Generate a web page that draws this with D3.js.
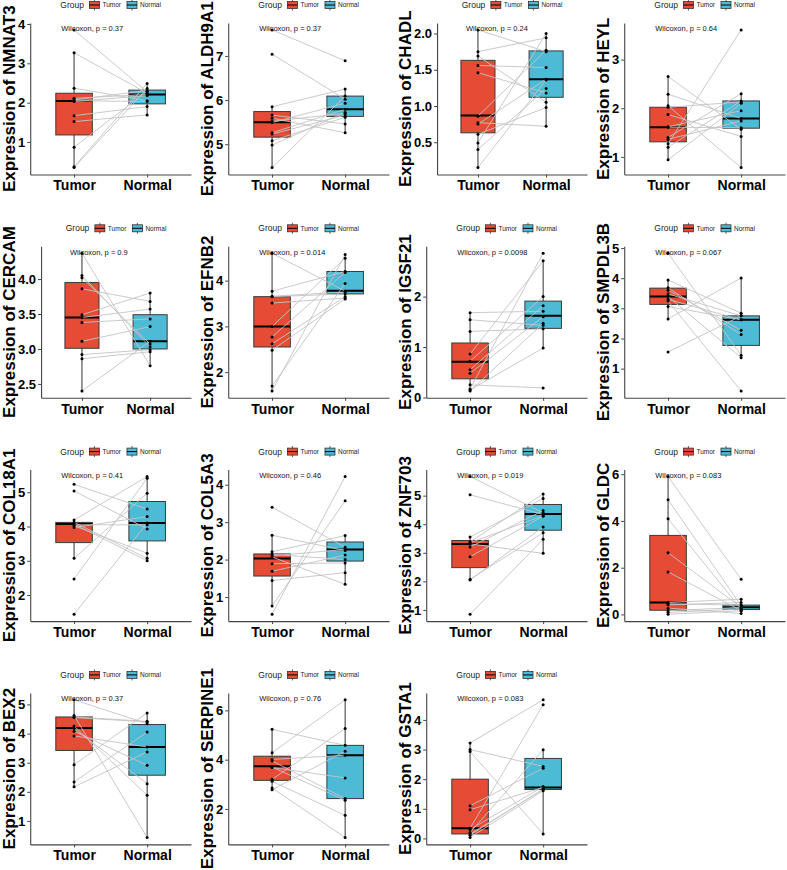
<!DOCTYPE html>
<html>
<head>
<meta charset="utf-8">
<script src="https://cdn.jsdelivr.net/npm/d3@7"></script>
<style>
  body { margin: 0; background: #fff; }
  text { font-family: "Liberation Sans", Arial, sans-serif; }
</style>
</head>
<body>
<svg id="chart" width="787" height="870"></svg>
<script>
const groups = ["Tumor", "Normal"];
const groupColors = ["#E64B35", "#4DBBD5"];

const genes = ["NMNAT3", "ALDH9A1", "CHADL", "HEYL", "CERCAM", "EFNB2", "IGSF21", "SMPDL3B",
               "COL18A1", "COL5A3", "ZNF703", "GLDC", "BEX2", "SERPINE1", "GSTA1"];
const pValues = ["0.37", "0.37", "0.24", "0.64", "0.9", "0.014", "0.0098", "0.067",
                 "0.41", "0.46", "0.019", "0.083", "0.37", "0.76", "0.083"];

const yTicks = [
  [1, 2, 3, 4], [5, 6, 7], [0.5, 1.0, 1.5, 2.0], [1, 2, 3],
  [2.5, 3.0, 3.5, 4.0], [2, 3, 4], [0, 1, 2], [1, 2, 3, 4, 5],
  [2, 3, 4, 5], [1, 2, 3, 4], [1, 2, 3, 4, 5], [0, 2, 4, 6],
  [1, 2, 3, 4, 5], [2, 4, 6], [0, 1, 2, 3, 4]
];

// paired samples: tumorValues[i][j] belongs with normalValues[i][j]
const tumorValues = [
  [3.85, 3.27, 2.37, 2.11, 2.07, 2.03, 1.67, 1.52, 0.87, 0.37, 0.35, 2.05],
  [7.59, 7.04, 5.85, 5.66, 5.59, 5.49, 5.26, 5.23, 5.08, 4.98, 4.47, 5.52],
  [2.05, 1.75, 1.69, 1.56, 1.46, 0.86, 0.77, 0.75, 0.61, 0.49, 0.40, 0.15],
  [2.65, 2.29, 2.05, 2.02, 1.87, 1.61, 1.40, 1.36, 1.27, 1.20, 0.94, 1.62],
  [4.37, 4.05, 4.02, 3.86, 3.49, 3.45, 3.38, 3.11, 2.92, 2.86, 2.40],
  [4.60, 3.77, 3.65, 3.51, 3.00, 2.77, 2.62, 2.48, 1.70, 1.59, 3.66],
  [1.68, 1.54, 1.31, 0.86, 0.72, 0.55, 0.48, 0.25, 0.17, 0.13, 0.15],
  [4.83, 3.94, 3.68, 3.60, 3.48, 3.39, 3.30, 3.24, 3.06, 2.65, 1.55],
  [5.23, 5.04, 4.19, 4.12, 4.07, 4.05, 4.02, 3.97, 3.07, 2.47, 1.44],
  [3.40, 2.65, 2.21, 2.14, 2.07, 1.89, 1.69, 1.44, 0.76, 0.54, 2.10],
  [5.67, 5.03, 3.55, 3.38, 3.31, 3.20, 2.86, 2.05, 2.07, 0.85, 3.35],
  [5.90, 4.91, 4.09, 2.64, 1.82, 0.51, 0.41, 0.27, 0.16, 0.09, 0.01, 0.45],
  [5.16, 4.62, 4.57, 4.26, 4.17, 4.08, 3.92, 2.93, 2.34, 2.17, 4.55],
  [5.23, 4.28, 4.01, 3.95, 3.70, 3.68, 3.20, 3.12, 2.85, 2.78],
  [3.22, 3.00, 2.93, 1.10, 0.97, 0.34, 0.20, 0.11, 0.03, 0.15, 0.30]
];
const normalValues = [
  [2.27, 2.24, 2.05, 2.21, 2.31, 2.18, 1.90, 1.69, 2.29, 2.49, 2.36, 2.03],
  [6.89, 6.02, 6.25, 5.46, 5.26, 5.93, 5.79, 5.66, 5.61, 5.72, 6.09, 5.70],
  [1.75, 1.94, 1.05, 1.53, 1.18, 1.77, 0.72, 1.37, 0.98, 2.00, 1.24, 1.36],
  [1.57, 1.79, 0.78, 2.13, 1.42, 1.60, 2.30, 1.74, 3.61, 2.15, 2.10, 1.95],
  [2.76, 3.03, 3.07, 3.68, 3.80, 3.57, 3.43, 3.32, 2.99, 2.96, 3.11],
  [3.77, 4.20, 3.71, 3.62, 4.49, 4.18, 3.65, 3.60, 3.94, 4.57, 3.75],
  [1.71, 1.43, 1.36, 2.71, 2.00, 1.82, 1.60, 0.19, 2.86, 1.47, 0.98],
  [1.44, 2.84, 2.13, 2.27, 2.75, 1.36, 2.62, 0.26, 2.62, 4.01, 2.75],
  [4.51, 3.93, 5.46, 3.07, 3.00, 4.05, 3.22, 4.29, 4.97, 5.41, 4.10],
  [2.33, 2.24, 2.64, 2.00, 1.34, 1.91, 2.12, 1.65, 3.57, 4.22, 2.27],
  [4.40, 4.34, 4.90, 5.06, 2.98, 4.48, 4.28, 3.90, 3.70, 3.47, 4.30],
  [1.50, 0.37, 0.23, 0.30, 0.16, 0.65, 0.51, 0.04, 0.30, 0.23, 0.16, 0.40],
  [4.34, 0.43, 4.42, 1.88, 2.28, 2.91, 3.54, 4.71, 4.05, 3.37, 4.40],
  [4.58, 6.43, 4.18, 2.42, 2.35, 3.26, 5.26, 1.74, 0.84, 4.34],
  [4.68, 2.43, 0.15, 2.37, 1.72, 4.51, 2.99, 1.67, 1.61, 1.65, 1.75]
];

// box hinges: [lower quartile, median, upper quartile]
const tumorBox = [
  [1.18, 2.04, 2.24], [5.16, 5.50, 5.74], [0.63, 0.87, 1.63], [1.31, 1.61, 2.02],
  [3.01, 3.45, 3.95], [2.55, 3.00, 3.65], [0.37, 0.71, 1.08], [3.13, 3.39, 3.67],
  [3.53, 4.07, 4.12], [1.56, 2.03, 2.15], [2.48, 3.31, 3.43], [0.18, 0.51, 3.38],
  [3.42, 4.19, 4.57], [3.16, 3.73, 4.14], [0.15, 0.34, 2.00]
];
const normalBox = [
  [1.97, 2.21, 2.32], [5.63, 5.79, 6.09], [1.12, 1.37, 1.76], [1.59, 1.79, 2.15],
  [3.00, 3.11, 3.49], [3.71, 3.78, 4.20], [1.37, 1.62, 1.91], [1.77, 2.62, 2.75],
  [3.58, 4.10, 4.73], [1.96, 2.27, 2.47], [3.79, 4.36, 4.69], [0.21, 0.31, 0.40],
  [2.57, 3.54, 4.31], [2.42, 4.18, 4.58], [1.65, 1.72, 2.70]
];

const fontFamily = '"Liberation Sans", Arial, sans-serif';
const ctx = document.createElement("canvas").getContext("2d");
function textWidth(s, size, weight) {
  ctx.font = `${weight || "normal"} ${size}px ${fontFamily}`;
  return ctx.measureText(s).width;
}

const colW = 198, rowH = 223.3;
const svg = d3.select("#chart");
const defs = svg.append("defs");

genes.forEach((gene, i) => {
  const r = Math.floor(i / 4), c = i % 4;
  const x0 = c * colW;
  const top = 23 + r * rowH, bottom = top + 151.5;
  const series = [tumorValues[i], normalValues[i]];
  const boxes = [tumorBox[i], normalBox[i]];

  // ggplot style: data range expanded 5% each side
  const [lo, hi] = d3.extent(series.flat());
  const pad = (hi - lo) * 0.05;
  const y = d3.scaleLinear().domain([lo - pad, hi + pad]).range([bottom, top]);

  const fmt = yTicks[i].some(t => t % 1 !== 0) ? d3.format(".1f") : d3.format("d");
  const labW = d3.max(yTicks[i], t => textWidth(fmt(t), 13, "bold"));
  const left = x0 + 23 + labW, right = x0 + 191;
  const x = d3.scalePoint().domain(groups).range([left, right]).padding(0.6);
  const step = x.step();

  defs.append("clipPath").attr("id", "clip" + i)
    .append("rect")
    .attr("x", x0).attr("y", top - 46)
    .attr("width", colW).attr("height", rowH);

  const g = svg.append("g").attr("clip-path", `url(#clip${i})`);

  // boxes with whiskers (1.5 IQR rule)
  groups.forEach((grp, k) => {
    const [q1, med, q3] = boxes[k];
    const iqr = q3 - q1;
    const inside = series[k].filter(v => v >= q1 - 1.5 * iqr && v <= q3 + 1.5 * iqr);
    const wLo = Math.min(d3.min(inside), q1), wHi = Math.max(d3.max(inside), q3);
    const cx = x(grp);

    g.append("line")
      .attr("x1", cx).attr("x2", cx)
      .attr("y1", y(wHi)).attr("y2", y(wLo))
      .attr("stroke", "#333").attr("stroke-width", 1);

    g.append("rect")
      .attr("x", cx - step * 0.25).attr("width", step * 0.5)
      .attr("y", y(q3)).attr("height", y(q1) - y(q3))
      .attr("fill", groupColors[k])
      .attr("stroke", "#3a3a3a").attr("stroke-width", 1);

    g.append("line")
      .attr("x1", cx - step * 0.25).attr("x2", cx + step * 0.25)
      .attr("y1", y(med)).attr("y2", y(med))
      .attr("stroke", "#000").attr("stroke-width", 2);
  });

  // paired lines
  g.selectAll(".pair")
    .data(d3.range(series[0].length))
    .join("line")
    .attr("x1", x("Tumor")).attr("y1", j => y(series[0][j]))
    .attr("x2", x("Normal")).attr("y2", j => y(series[1][j]))
    .attr("stroke", "#c4c4c4").attr("stroke-width", 0.9);

  // points
  groups.forEach((grp, k) => {
    g.selectAll(null)
      .data(series[k])
      .join("circle")
      .attr("cx", x(grp)).attr("cy", d => y(d))
      .attr("r", 1.5).attr("fill", "#000");
  });

  // axes
  const yAxis = g.append("g")
    .attr("transform", `translate(${left},0)`)
    .call(d3.axisLeft(y).tickValues(yTicks[i]).tickFormat(fmt).tickSize(3).tickSizeOuter(0).tickPadding(2));
  const xAxis = g.append("g")
    .attr("transform", `translate(0,${bottom})`)
    .call(d3.axisBottom(x).tickSize(3).tickSizeOuter(0).tickPadding(3));

  [yAxis, xAxis].forEach(a => {
    a.select(".domain").attr("stroke", "#444").attr("stroke-width", 1.1);
    a.selectAll(".tick line").attr("stroke", "#444");
    a.selectAll("text").attr("fill", "#000").attr("font-weight", "bold")
      .attr("font-family", fontFamily);
  });
  yAxis.selectAll("text").attr("font-size", 13);
  xAxis.selectAll("text").attr("font-size", 14);

  // y axis title
  g.append("text")
    .attr("transform", `translate(${x0 + 15},${(top + bottom) / 2}) rotate(-90)`)
    .attr("text-anchor", "middle")
    .attr("font-size", 17).attr("font-weight", "bold")
    .text(`Expression of ${gene}`);

  // test label
  g.append("text")
    .attr("x", x("Tumor") - 0.175 * step)
    .attr("y", y(hi) + 1.5)
    .attr("font-size", 7.5).attr("fill", "#111")
    .text(`Wilcoxon, p = ${pValues[i]}`);

  // legend
  const cy = top - 18;
  const gW = textWidth("Group", 8.5);
  const labWs = groups.map(s => textWidth(s, 6.5));
  const total = gW + 5.5 + 10 + 3 + labWs[0] + 6 + 10 + 3 + labWs[1];
  let lx = (left + right) / 2 - total / 2;
  const leg = g.append("g");
  leg.append("text").attr("x", lx).attr("y", cy + 3)
    .attr("font-size", 8.5).attr("fill", "#222").text("Group");
  lx += gW + 5.5;
  groups.forEach((grp, k) => {
    leg.append("line")
      .attr("x1", lx + 5).attr("x2", lx + 5)
      .attr("y1", cy - 5.5).attr("y2", cy + 5.5)
      .attr("stroke", "#333").attr("stroke-width", 0.8);
    leg.append("rect")
      .attr("x", lx).attr("y", cy - 3.5).attr("width", 10).attr("height", 7)
      .attr("fill", groupColors[k]).attr("stroke", "#333").attr("stroke-width", 0.8);
    leg.append("line")
      .attr("x1", lx).attr("x2", lx + 10).attr("y1", cy).attr("y2", cy)
      .attr("stroke", "#000").attr("stroke-width", 1);
    leg.append("text").attr("x", lx + 13).attr("y", cy + 2.3)
      .attr("font-size", 6.5).attr("fill", "#222").text(grp);
    lx += 13 + labWs[k] + 6;
  });
});
</script>
</body>
</html>
